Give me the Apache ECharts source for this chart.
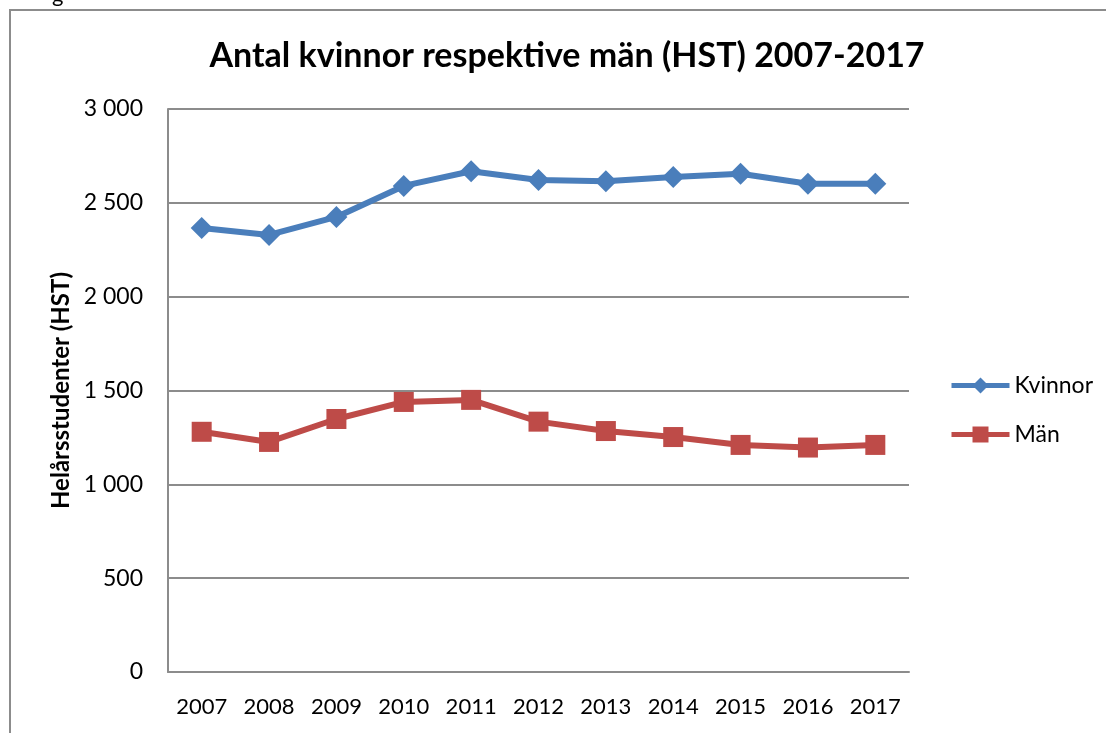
<!DOCTYPE html>
<html>
<head>
<meta charset="utf-8">
<script src="https://cdn.jsdelivr.net/npm/echarts@6/dist/echarts.min.js"></script>
<style>
  html, body { margin: 0; padding: 0; background: #fff; }
  #chart { width: 1106px; height: 733px; }
</style>
</head>
<body>
<div id="chart"></div>
<script>
// år och värden (HST)
const years = ['2007', '2008', '2009', '2010', '2011', '2012', '2013', '2014', '2015', '2016', '2017']
const kvinnor = [2366, 2329, 2425, 2590, 2668, 2622, 2615, 2638, 2655, 2602, 2602]
const man = [1280, 1226, 1348, 1439, 1450, 1334, 1284, 1252, 1210, 1196, 1210]
const yTicks = [0, 500, 1000, 1500, 2000, 2500, 3000]

const font = 'Lato, "Open Sans", sans-serif'
const chart = echarts.init(document.getElementById('chart'))

// tusentalsavgränsare med mellanslag
const fmt = v => String(v).replace(/\B(?=(\d{3})+(?!\d))/g, ' ')

chart.setOption({
  animation: false,
  backgroundColor: '#fff',
  textStyle: { fontFamily: font },
  title: {
    text: 'Antal kvinnor respektive män (HST) 2007-2017',
    left: 562,
    top: 34,
    textAlign: 'center',
    textStyle: { fontSize: 34, fontWeight: 'bold', color: '#000', fontFamily: font }
  },
  graphic: [
    {
      type: 'rect',
      shape: { x: 10, y: 10, width: 1110, height: 740 },
      style: { fill: 'none', stroke: '#8c8c8c', lineWidth: 2 }
    },
    {
      type: 'text',
      left: 52,
      top: -16,
      style: { text: 'g', fontSize: 22, fill: '#000', fontFamily: font }
    }
  ],
  legend: {
    orient: 'vertical',
    left: 944,
    top: 369,
    itemWidth: 58,
    itemHeight: 20,
    itemGap: 26,
    itemTextGap: 3,
    lineStyle: { width: 5 },
    textStyle: { fontSize: 23, color: '#000', fontFamily: font },
    data: ['Kvinnor', 'Män']
  },
  grid: { left: 168, right: 197, top: 109, bottom: 61 },
  xAxis: {
    type: 'category',
    data: years,
    boundaryGap: true,
    axisLine: { lineStyle: { color: '#8c8c8c', width: 2 } },
    axisTick: { show: false },
    axisLabel: { fontSize: 22, color: '#000', margin: 24, fontFamily: font }
  },
  yAxis: {
    type: 'value',
    min: yTicks[0],
    max: yTicks[yTicks.length - 1],
    interval: 500,
    name: 'Helårsstudenter (HST)',
    nameLocation: 'middle',
    nameGap: 94,
    nameTextStyle: { fontSize: 24, fontWeight: 'bold', color: '#000', fontFamily: font },
    axisLine: { show: true, lineStyle: { color: '#8c8c8c', width: 2 } },
    axisTick: { show: false },
    splitLine: { lineStyle: { color: '#8c8c8c', width: 2 } },
    axisLabel: { fontSize: 23, color: '#000', margin: 25, formatter: fmt, fontFamily: font }
  },
  series: [
    {
      name: 'Kvinnor',
      type: 'line',
      data: kvinnor,
      symbol: 'diamond',
      symbolSize: 22,
      lineStyle: { color: '#4a7ebb', width: 6 },
      itemStyle: { color: '#4a7ebb' }
    },
    {
      name: 'Män',
      type: 'line',
      data: man,
      symbol: 'rect',
      symbolSize: 20,
      lineStyle: { color: '#be4b48', width: 6 },
      itemStyle: { color: '#be4b48' }
    }
  ]
})
</script>
</body>
</html>
